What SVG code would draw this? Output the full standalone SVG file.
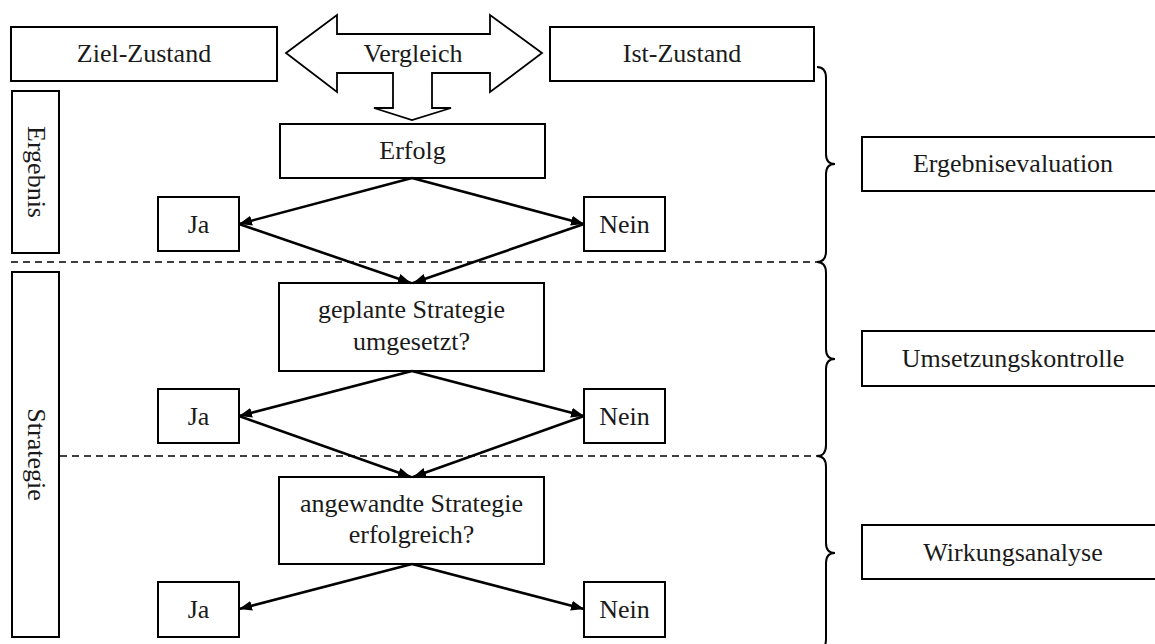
<svg xmlns="http://www.w3.org/2000/svg" width="1155" height="644" viewBox="0 0 1155 644">
<style>
.box{fill:#fff;stroke:#000;stroke-width:2}
.t{font-family:"Liberation Serif","Times New Roman",serif;font-size:26px;fill:#1a1a1a;text-anchor:middle}
.arr{fill:none;stroke:#000;stroke-width:2.6;marker-end:url(#ah)}
.dash{fill:none;stroke:#000;stroke-width:1.6;stroke-dasharray:7 5}
.brace{fill:none;stroke:#000;stroke-width:2}
</style>
<defs>
<marker id="ah" markerUnits="userSpaceOnUse" markerWidth="14" markerHeight="12" refX="13" refY="6" orient="auto">
<path d="M0,1 L13,6 L0,11 Z" fill="#000"/>
</marker>
</defs>
<rect width="1155" height="644" fill="#fff"/>

<g id="dividers">
<line class="dash" x1="11" y1="262" x2="820" y2="262"/>
<line class="dash" x1="60" y1="456" x2="820" y2="456"/>
</g>

<g id="ziel"><rect class="box" x="11" y="27" width="266" height="54"/><text class="t" x="144" y="62">Ziel-Zustand</text></g>
<g id="ist"><rect class="box" x="550" y="27" width="264" height="54"/><text class="t" x="682" y="62">Ist-Zustand</text></g>
<g id="vergleich">
<polygon fill="#fff" stroke="#000" stroke-width="1.8" stroke-linejoin="miter" points="286,53 337,15 337,34 490,34 490,15 542,53 490,92 490,73 432,73 432,108 451,108 412,120 374,108 393,108 393,73 337,73 337,92"/>
<text class="t" x="413" y="62">Vergleich</text>
</g>

<g id="ergebnis"><rect class="box" x="12" y="91" width="47" height="162"/><text class="t" transform="translate(35.5,172) rotate(90)" x="0" y="8">Ergebnis</text></g>
<g id="strategie"><rect class="box" x="12" y="272" width="47" height="365"/><text class="t" transform="translate(35.5,454.5) rotate(90)" x="0" y="8">Strategie</text></g>

<g id="erfolg"><rect class="box" x="280" y="124" width="265" height="54"/><text class="t" x="412.5" y="159">Erfolg</text></g>
<g id="ja1"><rect class="box" x="158" y="197" width="81" height="54"/><text class="t" x="198.5" y="233">Ja</text></g>
<g id="nein1"><rect class="box" x="584" y="197" width="81" height="54"/><text class="t" x="624.5" y="233">Nein</text></g>

<g id="umgesetzt"><rect class="box" x="279" y="283" width="265" height="88"/><text class="t" x="411.5" y="318">geplante Strategie</text><text class="t" x="411.5" y="350">umgesetzt?</text></g>
<g id="ja2"><rect class="box" x="158" y="389" width="81" height="54"/><text class="t" x="198.5" y="425">Ja</text></g>
<g id="nein2"><rect class="box" x="584" y="389" width="81" height="54"/><text class="t" x="624.5" y="425">Nein</text></g>

<g id="erfolgreich"><rect class="box" x="279" y="477" width="265" height="87"/><text class="t" x="411.5" y="512">angewandte Strategie</text><text class="t" x="411.5" y="543">erfolgreich?</text></g>
<g id="ja3"><rect class="box" x="158" y="582" width="81" height="55"/><text class="t" x="198.5" y="618">Ja</text></g>
<g id="nein3"><rect class="box" x="584" y="582" width="81" height="55"/><text class="t" x="624.5" y="618">Nein</text></g>

<g id="ergebnisevaluation"><rect class="box" x="862" y="137" width="305" height="54"/><text class="t" x="1013" y="172">Ergebnisevaluation</text></g>
<g id="umsetzungskontrolle"><rect class="box" x="862" y="331" width="305" height="55"/><text class="t" x="1013" y="367">Umsetzungskontrolle</text></g>
<g id="wirkungsanalyse"><rect class="box" x="862" y="525" width="305" height="54"/><text class="t" x="1013" y="561">Wirkungsanalyse</text></g>

<g id="braces">
<path class="brace" d="M817,67 Q826,67 826,78 L826,154 Q826,164 835,164 Q826,164 826,174 L826,251 Q826,262 817,262"/>
<path class="brace" d="M817,262 Q826,262 826,273 L826,349 Q826,359 835,359 Q826,359 826,369 L826,445 Q826,456 817,456"/>
<path class="brace" d="M817,456 Q826,456 826,467 L826,543 Q826,553 835,553 Q826,553 826,563 L826,639 Q826,650 817,650"/>
</g>

<g id="connectors">
<line class="arr" x1="412" y1="178" x2="239" y2="224"/>
<line class="arr" x1="412" y1="178" x2="584" y2="224"/>
<line class="arr" x1="239" y1="224" x2="411" y2="283"/>
<line class="arr" x1="584" y1="224" x2="413" y2="283"/>
<line class="arr" x1="412" y1="371" x2="239" y2="416"/>
<line class="arr" x1="412" y1="371" x2="584" y2="416"/>
<line class="arr" x1="239" y1="416" x2="411" y2="477"/>
<line class="arr" x1="584" y1="416" x2="413" y2="477"/>
<line class="arr" x1="412" y1="564" x2="239" y2="609"/>
<line class="arr" x1="412" y1="564" x2="584" y2="609"/>
</g>
</svg>
